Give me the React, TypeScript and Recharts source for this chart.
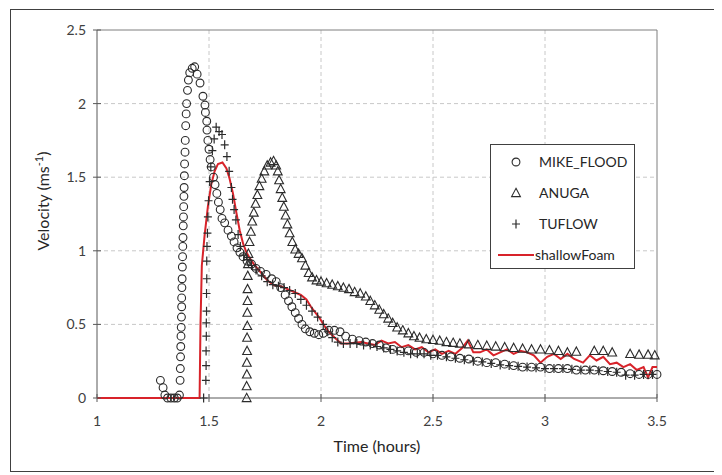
import React from 'react';
import { ComposedChart, Scatter, Line, XAxis, YAxis, CartesianGrid, ReferenceLine, Legend, Label } from 'recharts';

const xTicks = [1, 1.5, 2, 2.5, 3, 3.5];
const yTicks = [0, 0.5, 1, 1.5, 2, 2.5];
const seriesNames = ['MIKE_FLOOD', 'ANUGA', 'TUFLOW', 'shallowFoam'];

const mikeTime = [1.283, 1.295, 1.303, 1.315, 1.33, 1.345, 1.358, 1.368, 1.371, 1.372, 1.373, 1.374, 1.375, 1.376, 1.377, 1.378, 1.378, 1.379, 1.38, 1.381, 1.382, 1.383, 1.384, 1.385, 1.386, 1.387, 1.388, 1.389, 1.39, 1.391, 1.393, 1.394, 1.396, 1.398, 1.4, 1.404, 1.408, 1.414, 1.425, 1.436, 1.447, 1.46, 1.473, 1.482, 1.484, 1.49, 1.491, 1.495, 1.5, 1.505, 1.51, 1.52, 1.527, 1.535, 1.542, 1.55, 1.558, 1.57, 1.585, 1.6, 1.612, 1.625, 1.638, 1.652, 1.67, 1.69, 1.71, 1.73, 1.755, 1.78, 1.8, 1.82, 1.84, 1.855, 1.87, 1.885, 1.9, 1.915, 1.93, 1.95, 1.97, 1.99, 2.01, 2.035, 2.06, 2.085, 2.11, 2.14, 2.17, 2.2, 2.23, 2.26, 2.29, 2.32, 2.355, 2.39, 2.425, 2.46, 2.5, 2.54, 2.58, 2.62, 2.66, 2.7, 2.74, 2.78, 2.82, 2.86, 2.9, 2.94, 2.98, 3.02, 3.06, 3.1, 3.14, 3.18, 3.22, 3.26, 3.3, 3.34, 3.38, 3.42, 3.46, 3.5];
const mikeVel = [0.12, 0.07, 0.02, 0, 0, 0, 0, 0.02, 0.12, 0.2, 0.28, 0.35, 0.42, 0.48, 0.55, 0.62, 0.68, 0.75, 0.81, 0.89, 0.96, 1.03, 1.09, 1.17, 1.23, 1.3, 1.37, 1.43, 1.51, 1.59, 1.67, 1.75, 1.85, 1.93, 2.0, 2.09, 2.16, 2.21, 2.24, 2.25, 2.2, 2.14, 2.05, 1.99, 1.94, 1.88, 1.82, 1.75, 1.69, 1.62, 1.57, 1.5, 1.45, 1.39, 1.33, 1.28, 1.22, 1.19, 1.14, 1.1, 1.06, 1.02, 0.99, 0.96, 0.93, 0.91, 0.88, 0.86, 0.84, 0.81, 0.79, 0.75, 0.7, 0.66, 0.62, 0.58, 0.54, 0.5, 0.47, 0.45, 0.44, 0.43, 0.44, 0.46, 0.46, 0.45, 0.42, 0.4, 0.39, 0.38, 0.37, 0.36, 0.34, 0.33, 0.32, 0.32, 0.31, 0.31, 0.3, 0.29, 0.28, 0.27, 0.265, 0.25, 0.24, 0.24, 0.23, 0.22, 0.21, 0.21, 0.21, 0.2, 0.2, 0.2, 0.19, 0.19, 0.19, 0.185, 0.18, 0.175, 0.165, 0.16, 0.16, 0.16];

const anugaTime = [1.668, 1.668, 1.669, 1.669, 1.67, 1.67, 1.671, 1.671, 1.672, 1.672, 1.673, 1.674, 1.676, 1.681, 1.687, 1.693, 1.7, 1.708, 1.716, 1.725, 1.735, 1.747, 1.76, 1.775, 1.788, 1.8, 1.807, 1.813, 1.82, 1.827, 1.834, 1.842, 1.85, 1.86, 1.872, 1.885, 1.9, 1.915, 1.93, 1.945, 1.96, 1.98, 2.0, 2.025, 2.05, 2.075, 2.1, 2.125, 2.15, 2.175, 2.2, 2.22, 2.24, 2.26, 2.28, 2.3, 2.32, 2.34, 2.365, 2.39, 2.415, 2.44, 2.47, 2.5, 2.53, 2.56, 2.59, 2.62, 2.66, 2.7, 2.74, 2.78, 2.82, 2.86, 2.9, 2.94, 2.98, 3.02, 3.06, 3.1, 3.14, 3.22, 3.26, 3.3, 3.38, 3.42, 3.46, 3.49];
const anugaVel = [0, 0.08, 0.16, 0.24, 0.32, 0.41, 0.49, 0.58, 0.66, 0.74, 0.83, 0.91, 0.98, 1.06, 1.13, 1.2, 1.26, 1.32, 1.38, 1.44, 1.49, 1.54, 1.58, 1.6, 1.61, 1.58, 1.54, 1.48, 1.42, 1.36, 1.3, 1.24, 1.18, 1.12, 1.06, 1.01, 0.98, 0.95, 0.9, 0.85, 0.82, 0.8, 0.79, 0.78, 0.77, 0.76, 0.75, 0.74, 0.72, 0.71, 0.69, 0.66, 0.63, 0.6, 0.57, 0.54, 0.51, 0.48, 0.46, 0.44, 0.42, 0.41, 0.4, 0.395, 0.39, 0.38, 0.375, 0.37, 0.365, 0.36, 0.355, 0.35, 0.345, 0.34, 0.335, 0.33, 0.33, 0.325, 0.32, 0.31, 0.315, 0.32, 0.32, 0.31, 0.3, 0.295, 0.295, 0.29];

const tuflowTime = [1.476, 1.486, 1.487, 1.487, 1.488, 1.488, 1.489, 1.489, 1.49, 1.49, 1.491, 1.493, 1.495, 1.498, 1.503, 1.508, 1.515, 1.523, 1.532, 1.545, 1.558, 1.57, 1.58, 1.59, 1.6, 1.605, 1.612, 1.62, 1.63, 1.64, 1.655, 1.67, 1.69, 1.71, 1.735, 1.76, 1.785, 1.81, 1.835, 1.86, 1.885, 1.91, 1.935, 1.96, 1.985, 2.01, 2.03, 2.05, 2.075, 2.1, 2.13, 2.16, 2.19, 2.22, 2.25, 2.28, 2.31, 2.34, 2.37, 2.4, 2.43, 2.46, 2.49, 2.52, 2.56, 2.6, 2.64, 2.68, 2.72, 2.76, 2.8, 2.84, 2.88, 2.92, 2.96, 3.0, 3.04, 3.08, 3.12, 3.16, 3.2, 3.24, 3.28, 3.32, 3.36, 3.4, 3.44, 3.48];
const tuflowVel = [0, 0.12, 0.22, 0.32, 0.42, 0.51, 0.59, 0.71, 0.81, 0.93, 1.03, 1.12, 1.23, 1.34, 1.47, 1.57, 1.68, 1.76, 1.84, 1.81, 1.79, 1.72, 1.64, 1.54, 1.43, 1.35, 1.28, 1.21, 1.11, 1.03, 0.97, 0.94, 0.9, 0.87, 0.83, 0.79, 0.77, 0.76, 0.75, 0.73, 0.71, 0.67, 0.63, 0.59, 0.55, 0.5, 0.45, 0.41, 0.38, 0.37, 0.37, 0.37, 0.36, 0.36, 0.35, 0.34, 0.33, 0.32, 0.31, 0.3, 0.3, 0.3, 0.29, 0.29, 0.28, 0.27, 0.26, 0.25, 0.245, 0.235, 0.225, 0.22, 0.215, 0.21, 0.205, 0.2, 0.2, 0.2, 0.195, 0.19, 0.19, 0.185, 0.18, 0.175, 0.155, 0.155, 0.16, 0.16];

const foamTime = [1.0, 1.458, 1.462, 1.468, 1.48, 1.495, 1.51, 1.525, 1.54, 1.56, 1.578, 1.592, 1.607, 1.622, 1.637, 1.652, 1.667, 1.682, 1.7, 1.73, 1.76, 1.79, 1.82, 1.85, 1.88, 1.91, 1.935, 1.955, 1.975, 1.995, 2.015, 2.035, 2.055, 2.075, 2.09, 2.12, 2.15, 2.18, 2.21, 2.24, 2.27, 2.3, 2.33, 2.36, 2.39, 2.42, 2.45, 2.48, 2.51, 2.54, 2.57, 2.6, 2.63, 2.655, 2.68, 2.71, 2.74, 2.77, 2.8, 2.83, 2.86, 2.89, 2.92, 2.95, 2.98, 3.01, 3.04, 3.07, 3.1, 3.13, 3.17, 3.2, 3.23, 3.26, 3.29, 3.32, 3.35, 3.38, 3.41, 3.44, 3.46, 3.48, 3.5];
const foamVel = [0, 0, 0.5, 0.9, 1.1, 1.3, 1.45, 1.54, 1.59, 1.6, 1.56, 1.49, 1.39, 1.26, 1.14, 1.05, 0.99, 0.95, 0.91, 0.855, 0.8, 0.765, 0.76, 0.74, 0.72, 0.7, 0.67, 0.62, 0.58, 0.54, 0.49, 0.45, 0.42, 0.39, 0.37, 0.37, 0.375, 0.38, 0.37, 0.36, 0.39, 0.37, 0.38, 0.345, 0.36, 0.33, 0.345, 0.31, 0.33, 0.3, 0.32, 0.3, 0.34, 0.39, 0.31, 0.31, 0.33, 0.29, 0.31, 0.33, 0.3, 0.32, 0.31, 0.29, 0.24, 0.28, 0.3, 0.265, 0.3, 0.265, 0.24, 0.29, 0.255, 0.28, 0.23, 0.24, 0.21, 0.23, 0.19, 0.21, 0.14, 0.21, 0.21];

const zip = (t: number[], v: number[]) => t.map((x, i) => ({ x, y: v[i] }));
const mikeData = zip(mikeTime, mikeVel);
const anugaData = zip(anugaTime, anugaVel);
const tuflowData = zip(tuflowTime, tuflowVel);
const foamData = zip(foamTime, foamVel);

const INK = '#2b2b2b';
const RED = '#d8232a';
const AXIS = '#595959';
const FONT = 'Lato, "Open Sans", sans-serif';

const circlePath = (cx: number, cy: number) => <circle cx={cx} cy={cy} r={3.9} fill="none" stroke={INK} strokeWidth={1.1} />;
const triPath = (cx: number, cy: number) => (
  <path d={`M${cx},${cy - 4.7} L${cx + 4.4},${cy + 3.6} L${cx - 4.4},${cy + 3.6} Z`} fill="none" stroke={INK} strokeWidth={1.1} />
);
const plusPath = (cx: number, cy: number) => (
  <path d={`M${cx - 4},${cy} H${cx + 4} M${cx},${cy - 4.5} V${cy + 4.5}`} fill="none" stroke={INK} strokeWidth={1.2} />
);

const CircleShape = (p: any) => circlePath(p.cx, p.cy);
const TriShape = (p: any) => triPath(p.cx, p.cy);
const PlusShape = (p: any) => plusPath(p.cx, p.cy);

const XTick = (p: any) => (
  <g>
    <line x1={p.x} x2={p.x} y1={p.y - 4} y2={p.y + 4} stroke={AXIS} />
    <text x={p.x} y={p.y + 28} textAnchor="middle" fontSize={14} fill="#404040" fontFamily={FONT}>{p.payload.value}</text>
  </g>
);
const YTick = (p: any) => (
  <g>
    <line x1={p.x - 4} x2={p.x + 4} y1={p.y} y2={p.y} stroke={AXIS} />
    <text x={p.x - 11} y={p.y + 5} textAnchor="end" fontSize={14} fill="#404040" fontFamily={FONT}>{p.payload.value}</text>
  </g>
);

const XTitle = (p: any) => {
  const vb = p.viewBox;
  return (
    <text x={vb.x + vb.width / 2} y={vb.y + 54} textAnchor="middle" fontSize={16} fill="#262626" fontFamily={FONT}>Time (hours)</text>
  );
};
const YTitle = (p: any) => {
  const vb = p.viewBox;
  const cx = vb.x + vb.width - 48;
  const cy = vb.y + vb.height / 2 - 13;
  return (
    <text transform={`translate(${cx},${cy}) rotate(-90)`} textAnchor="middle" fontSize={16} fill="#262626" fontFamily={FONT}>
      Velocity (ms<tspan dy={-6} fontSize={11}>-1</tspan><tspan dy={6}>)</tspan>
    </text>
  );
};

const markerFns = [circlePath, triPath, plusPath];

const LegendBox = () => (
  <div style={{ width: 143, height: 123, border: '1px solid #404040', background: '#fff', fontFamily: FONT, fontSize: 14, color: '#262626', position: 'relative' }}>
    {seriesNames.map((name, i) => (
      <div key={name} style={{ position: 'absolute', left: 0, top: 17 + i * 31 - 10, height: 20, width: 143 }}>
        <svg width={46} height={20} style={{ position: 'absolute', left: 0, top: 0 }}>
          {i < 3 ? markerFns[i](25, 10) : <line x1={7} x2={43} y1={10} y2={10} stroke={RED} strokeWidth={1.8} />}
        </svg>
        <span style={{ position: 'absolute', left: i < 3 ? 48 : 44, top: 0, lineHeight: '20px', whiteSpace: 'nowrap' }}>{name}</span>
      </div>
    ))}
  </div>
);

const foamStart = foamTime[1];

export default function App() {
  return (
    <div style={{ position: 'relative', width: 714, height: 467 }}>
      <div style={{ position: 'absolute', left: 2, top: 1, width: 704, height: 461, border: '1px solid #404040' }} />
      <ComposedChart
        width={714}
        height={467}
        margin={{ top: 22, right: 65, bottom: 47, left: 29 }}
        style={{ position: 'absolute', left: 0, top: 0 }}
      >
        <CartesianGrid stroke="#c8c8c8" strokeDasharray="4 3" horizontalValues={[0.5, 1, 1.5, 2]} verticalValues={[1.5, 2, 2.5, 3]} />
        <ReferenceLine y={2.5} stroke="#7f7f7f" />
        <ReferenceLine x={3.5} stroke="#7f7f7f" />
        <XAxis
          type="number"
          dataKey="x"
          domain={[1, 3.5]}
          ticks={xTicks}
          height={30}
          tickSize={0}
          tickMargin={0}
          tickLine={false}
          axisLine={{ stroke: AXIS }}
          tick={<XTick />}
          interval={0}
        >
          <Label content={<XTitle />} />
        </XAxis>
        <YAxis
          type="number"
          dataKey="y"
          domain={[0, 2.5]}
          ticks={yTicks}
          width={60}
          tickSize={0}
          tickMargin={0}
          tickLine={false}
          axisLine={{ stroke: AXIS }}
          tick={<YTick />}
          interval={0}
        >
          <Label content={<YTitle />} />
        </YAxis>
        <Line data={foamData} dataKey="y" type="linear" stroke={RED} strokeWidth={2} dot={false} activeDot={false} isAnimationActive={false} name="shallowFoam" />
        <ReferenceLine segment={[{ x: 1, y: 0 }, { x: foamStart, y: 0 }]} stroke={RED} strokeWidth={2} ifOverflow="visible" zIndex={600} />
        <Scatter data={mikeData} dataKey="y" shape={CircleShape} isAnimationActive={false} name="MIKE_FLOOD" />
        <Scatter data={anugaData} dataKey="y" shape={TriShape} isAnimationActive={false} name="ANUGA" />
        <Scatter data={tuflowData} dataKey="y" shape={PlusShape} isAnimationActive={false} name="TUFLOW" />
        <Legend
          layout="horizontal"
          verticalAlign="middle"
          align="center"
          content={<LegendBox />}
          wrapperStyle={{ position: 'absolute', left: 482, top: 136, width: 145, height: 125 }}
        />
      </ComposedChart>
    </div>
  );
}
